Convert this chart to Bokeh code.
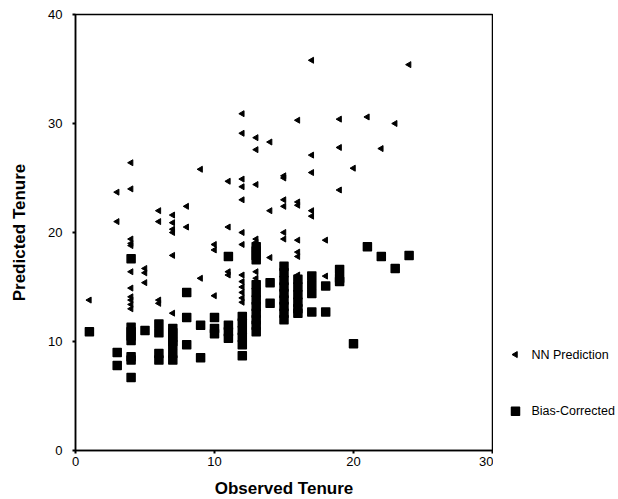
import math
from bokeh.plotting import figure
from bokeh.layouts import row
from bokeh.models import Range1d, FixedTicker
from bokeh.core.properties import value
from bokeh.embed import file_html
from bokeh.resources import INLINE

series_names = ["NN Prediction", "Bias-Corrected"]

# NN Prediction
nn_x = [1,
        3, 3,
        4, 4, 4, 4, 4, 4, 4, 4, 4, 4, 4,
        5, 5, 5,
        6, 6, 6, 6,
        7, 7, 7, 7, 7, 7,
        8, 8,
        9, 9,
        10, 10, 10,
        11, 11, 11, 11,
        12, 12, 12, 12, 12, 12, 12, 12, 12, 12, 12, 12, 12,
        13, 13, 13, 13, 13, 13, 13,
        14, 14, 14,
        15, 15, 15, 15, 15, 15,
        16, 16, 16, 16, 16, 16, 16,
        17, 17, 17, 17, 17,
        18, 18,
        19, 19, 19,
        20, 21, 22, 23, 24]
nn_y = [13.8,
        23.7, 21.0,
        26.4, 24.0, 19.4, 19.0, 18.8, 16.4, 14.9, 14.1, 13.8, 13.4, 13.0,
        16.7, 16.3, 15.4,
        22.0, 21.0, 13.8, 13.5,
        21.6, 20.9, 20.3, 20.0, 17.9, 12.6,
        22.4, 20.5,
        25.8, 15.8,
        18.9, 18.4, 14.2,
        24.7, 20.5, 16.4, 16.1,
        30.9, 29.1, 24.9, 24.2, 23.0, 20.0, 18.9, 16.1, 15.5, 15.0, 14.5, 14.0, 13.6,
        28.7, 27.6, 24.4, 19.4, 19.1, 16.4, 15.8,
        28.3, 22.0, 17.7,
        25.2, 25.0, 23.0, 22.4, 20.0, 19.4,
        30.3, 22.8, 22.5, 19.3, 18.2, 17.8, 16.1,
        35.8, 27.1, 25.5, 22.0, 21.5,
        19.3, 16.0,
        30.4, 27.8, 23.9,
        25.9, 30.6, 27.7, 30.0, 35.4]

# Bias-Corrected
bc_x = [1,
        3, 3,
        4, 4, 4, 4, 4, 4, 4, 4,
        5,
        6, 6, 6, 6,
        7, 7, 7, 7, 7, 7, 7,
        8, 8, 8,
        9, 9,
        10, 10, 10,
        11, 11, 11, 11,
        12, 12, 12, 12, 12, 12,
        13, 13, 13, 13, 13, 13, 13, 13, 13, 13, 13, 13,
        14, 14,
        15, 15, 15, 15, 15, 15, 15, 15, 15,
        16, 16, 16, 16, 16, 16,
        17, 17, 17, 17,
        18, 18,
        19, 19, 19,
        20, 21, 22, 23, 24]
bc_y = [10.9,
        9.0, 7.8,
        17.6, 11.3, 10.9, 10.5, 10.1, 8.6, 8.3, 6.7,
        11.0,
        11.6, 10.8, 8.9, 8.3,
        11.2, 10.8, 10.4, 10.0, 9.7, 8.9, 8.3,
        14.5, 12.2, 9.7,
        11.5, 8.5,
        12.2, 11.2, 10.7,
        17.8, 11.5, 10.9, 10.3,
        12.3, 11.7, 11.0, 10.4, 9.7, 8.7,
        18.7, 18.3, 17.9, 17.5, 15.2, 14.5, 13.8, 13.2, 12.6, 12.0, 11.5, 10.9,
        15.4, 13.5,
        16.9, 16.3, 15.6, 15.0, 14.4, 13.8, 13.2, 12.6, 12.0,
        15.7, 15.0, 14.3, 13.6, 13.0, 12.6,
        16.0, 15.2, 14.4, 12.7,
        15.1, 12.7,
        16.6, 15.8, 15.5,
        9.8, 18.7, 17.8, 16.7, 17.9]

x_ticks = [0, 10, 20, 30]
y_ticks = [0, 10, 20, 30, 40]

FONT = "Liberation Sans"
TRI = dict(marker="triangle", angle=math.pi / 2, size=6, fill_color="black", line_color="black")
SQ = dict(marker="square", size=8, fill_color="black", line_color="black",
          line_width=1.5, line_join="round")

p = figure(frame_width=417, frame_height=436, output_backend="svg", toolbar_location=None,
           x_range=Range1d(0, 30), y_range=Range1d(0, 40),
           min_border_left=75, min_border_right=1, min_border_top=14, min_border_bottom=49)
p.grid.visible = False
p.outline_line_color = "black"
p.outline_line_width = 1.5
p.background_fill_color = "white"
p.border_fill_color = "white"

p.scatter(nn_x, nn_y, **TRI)
p.scatter(bc_x, bc_y, **SQ)

for ax, ticks in ((p.xaxis[0], x_ticks), (p.yaxis[0], y_ticks)):
    ax.ticker = FixedTicker(ticks=ticks)
    ax.minor_tick_line_color = None
    ax.major_tick_in = 0
    ax.major_tick_out = 3
    ax.major_tick_line_width = 2
    ax.axis_line_width = 1.5
    ax.major_label_text_font = FONT
    ax.major_label_text_font_size = "13px"
    ax.major_label_text_color = "black"
    ax.axis_label_text_font = FONT
    ax.axis_label_text_font_style = "bold"
    ax.axis_label_text_font_size = "17px"
    ax.axis_label_text_color = "black"

p.xaxis.axis_label = "Observed Tenure"
p.yaxis.axis_label = "Predicted Tenure"
p.xaxis.major_label_standoff = 3
p.yaxis.major_label_standoff = 10
p.xaxis.axis_label_standoff = 10
p.yaxis.axis_label_standoff = 16

# Legend panel: its frame spans the same height as the main frame (y 0..40)
leg = figure(frame_width=125, frame_height=436, output_backend="svg", toolbar_location=None,
             x_range=Range1d(0, 125), y_range=Range1d(0, 40),
             x_axis_type=None, y_axis_type=None,
             min_border_left=0, min_border_right=0, min_border_top=14, min_border_bottom=49)
leg.grid.visible = False
leg.outline_line_color = None
leg.background_fill_color = "white"
leg.border_fill_color = "white"

key_x = 22
text_x = 38
key_y = [8.8, 3.6]
leg.scatter([key_x], [key_y[0]], **TRI)
leg.scatter([key_x], [key_y[1]], **SQ)
leg.text([text_x, text_x], key_y, text=series_names, text_font=value(FONT),
         text_font_size="12.5px", text_color="black", text_baseline="middle",
         text_align="left")

layout = row(p, leg, spacing=0)
open("out.html", "w").write(file_html(layout, INLINE))
